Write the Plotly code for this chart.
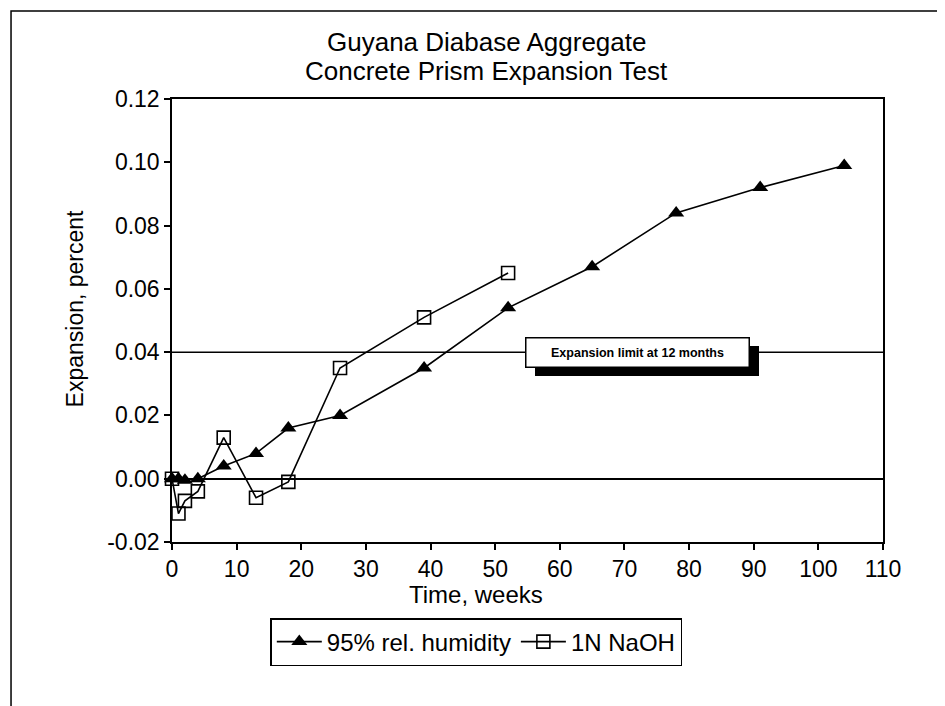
import plotly.graph_objects as go

# ---- data ----
weeks_rh = [0, 1, 2, 4, 8, 13, 18, 26, 39, 52, 65, 78, 91, 104]
exp_rh = [0.000, 0.000, -0.0005, 0.000, 0.004, 0.008, 0.016, 0.020, 0.035, 0.054, 0.067, 0.084, 0.092, 0.099]

weeks_naoh = [0, 1, 2, 4, 8, 13, 18, 26, 39, 52]
exp_naoh = [0.000, -0.011, -0.007, -0.004, 0.013, -0.006, -0.001, 0.035, 0.051, 0.065]

y_tickvals = [-0.02, 0.00, 0.02, 0.04, 0.06, 0.08, 0.10, 0.12]
y_ticktext = ["-0.02", "0.00", "0.02", "0.04", "0.06", "0.08", "0.10", "0.12"]
x_tickvals = [0, 10, 20, 30, 40, 50, 60, 70, 80, 90, 100, 110]

limit_value = 0.04
limit_label = "Expansion limit at 12 months"
limit_label_x = 72

title_line1 = "Guyana Diabase Aggregate"
title_line2 = "Concrete Prism Expansion Test"
x_title = "Time, weeks"
y_title = "Expansion, percent"
name_rh = "95% rel. humidity"
name_naoh = "1N NaOH"

FONT = "Liberation Sans, Arial, Helvetica, sans-serif"

fig = go.Figure()
fig.add_trace(go.Scatter(
    x=weeks_rh, y=exp_rh, name=name_rh, mode="lines+markers",
    line=dict(color="black", width=1.6),
    marker=dict(symbol="triangle-up", size=14, color="black"),
    cliponaxis=False,
))
fig.add_trace(go.Scatter(
    x=weeks_naoh, y=exp_naoh, name=name_naoh, mode="lines+markers",
    line=dict(color="black", width=1.6),
    marker=dict(symbol="square-open", size=13, color="black", line=dict(width=1.6)),
    cliponaxis=False,
))

# expansion limit line
fig.add_hline(y=limit_value, line=dict(color="black", width=1.5), layer="below")

# annotation shadow (blank box) + labelled box
fig.add_annotation(x=limit_label_x, y=limit_value, xref="x", yref="y",
                   text="&nbsp;", showarrow=False,
                   font=dict(size=12.5, color="black", family=FONT),
                   bgcolor="black", bordercolor="black", borderwidth=1,
                   width=220, height=26, xshift=10, yshift=-9)
fig.add_annotation(x=limit_label_x, y=limit_value, xref="x", yref="y",
                   text="<b>" + limit_label + "</b>", showarrow=False,
                   font=dict(size=12.5, color="black", family=FONT),
                   bgcolor="white", bordercolor="black", borderwidth=1.5,
                   width=220, height=26, xshift=0, yshift=0)

# title (two lines)
fig.add_annotation(x=0.4430, y=1.128, xref="paper", yref="paper", text=title_line1,
                   showarrow=False, font=dict(size=26, color="black", family=FONT),
                   xanchor="center", yanchor="middle")
fig.add_annotation(x=0.4430, y=1.0625, xref="paper", yref="paper", text=title_line2,
                   showarrow=False, font=dict(size=26, color="black", family=FONT),
                   xanchor="center", yanchor="middle")

# axis titles
fig.add_annotation(x=0.428, y=-0.1196, xref="paper", yref="paper", text=x_title,
                   showarrow=False, font=dict(size=24, color="black", family=FONT),
                   xanchor="center", yanchor="middle")
fig.add_annotation(x=-0.136, y=0.528, xref="paper", yref="paper", text=y_title,
                   showarrow=False, textangle=-90,
                   font=dict(size=23, color="black", family=FONT),
                   xanchor="center", yanchor="middle")

# outer frame (right edge falls just outside the picture, as in the scan)
fig.add_shape(type="rect", xref="paper", yref="paper",
              x0=-0.2264, x1=1.101, y0=-0.379, y1=1.1986,
              line=dict(color="black", width=1.5), fillcolor="rgba(0,0,0,0)")

fig.update_layout(
    width=945, height=706,
    margin=dict(l=164, r=70, t=91, b=172),
    paper_bgcolor="white", plot_bgcolor="white",
    font=dict(family=FONT, color="black", size=23),
    showlegend=True,
    legend=dict(orientation="h", x=0.428, xanchor="center", y=-0.1716, yanchor="top",
                bordercolor="black", borderwidth=1.5, bgcolor="white",
                font=dict(size=24, color="black", family=FONT),
                itemwidth=45, tracegroupgap=0),
)
fig.update_xaxes(range=[0, 110], tickvals=x_tickvals, showgrid=False, zeroline=False,
                 showline=True, linecolor="black", linewidth=1.5, mirror=True,
                 ticks="outside", ticklen=6, tickcolor="black", tickwidth=1.5,
                 tickfont=dict(size=23, family=FONT, color="black"))
fig.update_yaxes(range=[-0.02, 0.12], tickvals=y_tickvals, ticktext=y_ticktext,
                 showgrid=False, zeroline=True, zerolinecolor="black", zerolinewidth=1.5,
                 showline=True, linecolor="black", linewidth=1.5, mirror=True,
                 ticks="outside", ticklen=6, tickcolor="black", tickwidth=1.5,
                 tickfont=dict(size=23, family=FONT, color="black"))

fig.write_html("out.html")
